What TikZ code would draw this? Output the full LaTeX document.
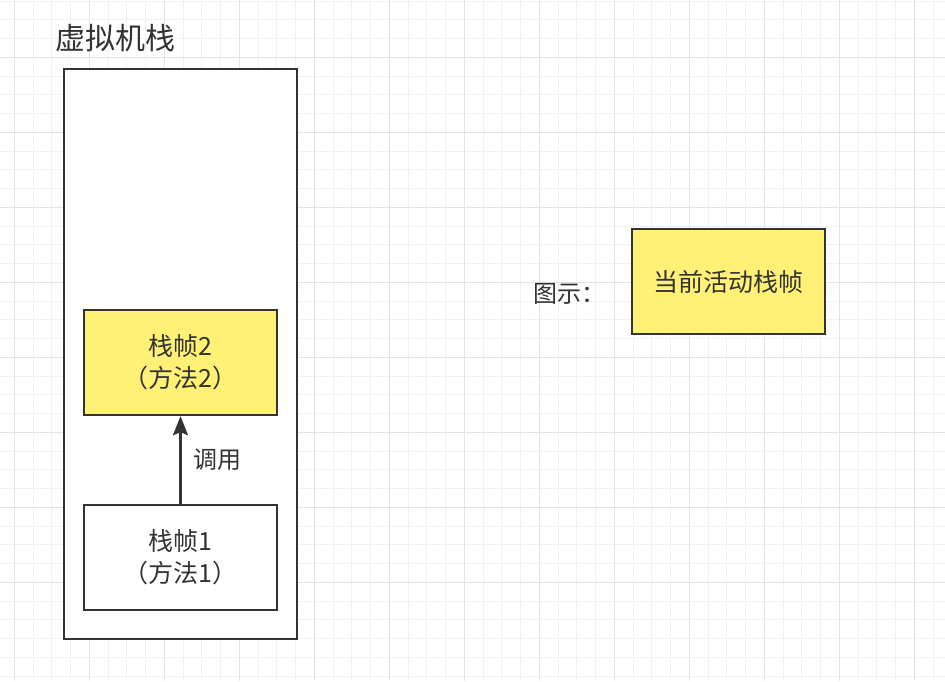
\documentclass[tikz,border=0pt]{standalone}
\usepackage{fontspec}
\setmainfont{Noto Sans CJK SC}
\usetikzlibrary{arrows.meta}
\definecolor{ink}{HTML}{333333}
\definecolor{framefill}{HTML}{FFF176}
\definecolor{gridmajor}{HTML}{E4E4E4}
\definecolor{gridminor}{HTML}{F1F1F1}
\tikzset{
  boxline/.style={draw=ink, line width=2.4pt},
  stackbox/.style={boxline, fill=white, minimum width=233pt, minimum height=570pt, inner sep=0pt},
  framebox/.style={boxline, fill=white, minimum width=193pt, minimum height=105pt, inner sep=0pt,
    align=center, text=ink, font=\fontsize{25pt}{32pt}\selectfont},
  activebox/.style={framebox, fill=framefill},
  label/.style={text=ink, inner sep=0pt, font=\fontsize{24pt}{31pt}\selectfont},
  callarrow/.style={draw=ink, line width=2.4pt, -{Stealth[length=19pt,width=15pt,inset=3pt]}},
}
\begin{document}
\begin{tikzpicture}[x=1pt,y=-1pt]
\useasboundingbox (0,0) rectangle (945,681);
\fill[white] (0,0) rectangle (945,681);
% background grid: minor lines every 18.75, major lines every 75
\foreach \i in {0,...,50} {
  \draw[gridminor, line width=1pt] ({14.3+18.75*(\i-1)},0) -- ({14.3+18.75*(\i-1)},681);
}
\foreach \i in {0,...,37} {
  \draw[gridminor, line width=1pt] (0,{1.05+18.75*\i}) -- (945,{1.05+18.75*\i});
}
\foreach \i in {0,...,12} {
  \draw[gridmajor, line width=1pt] ({14.3+75*\i},0) -- ({14.3+75*\i},681);
}
\foreach \i in {0,...,8} {
  \draw[gridmajor, line width=1pt] (0,{57.3+75*(\i-1)}) -- (945,{57.3+75*(\i-1)});
}
% virtual machine stack
\node[label, anchor=west, font=\fontsize{30pt}{36pt}\selectfont] (title) at (55,38) {虚拟机栈};
\node[stackbox] (vm) at (180.5,354) {};
\node[activebox] (f2) at (180.5,362.5) {栈帧2\\（方法2）};
\node[framebox] (f1) at (180.5,557.5) {栈帧1\\（方法1）};
\draw[callarrow] (f1) -- node[label, right=12pt] {调用} (f2);
% legend
\node[label, anchor=west] (legendtext) at (533,294) {图示：};
\node[activebox] (legend) at (728.5,281.5) {当前活动栈帧};
\end{tikzpicture}
\end{document}
